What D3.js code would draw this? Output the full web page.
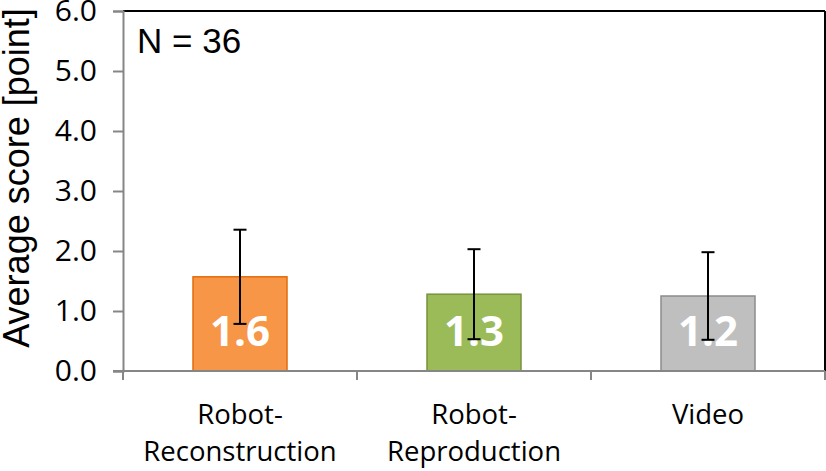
<!DOCTYPE html>
<html><head><meta charset="utf-8">
<script src="https://cdn.jsdelivr.net/npm/d3@7"></script>
<style>html,body{margin:0;padding:0;background:#fff;}</style>
</head><body>
<svg id="c" width="826" height="471"></svg>
<script>
const categories = [["Robot-","Reconstruction"],["Robot-","Reproduction"],["Video"]];
const means = [1.57, 1.28, 1.25];
const sds = [0.785, 0.75, 0.73];
const valueLabels = ["1.6","1.3","1.2"];
const yTicks = [0,1,2,3,4,5,6];
const fills = ["#F79646","#9BBB59","#BFBFBF"];
const strokes = ["#E46C0A","#77933C","#8C8C8C"];

const svg = d3.select("#c");
const m = {left:123, right:1, top:11, bottom:100};
const W = 826, H = 471;
const xb = d3.scaleBand().domain(d3.range(categories.length)).range([m.left, W - m.right]);
const y = d3.scaleLinear().domain([0,6]).range([371, 11]);

const calib = "'Open Sans', sans-serif";
const arial = "'Liberation Sans', Arial, sans-serif";
const gray = "#868686";

// frame top & right
svg.append("line").attr("x1", m.left).attr("x2", W - m.right).attr("y1", y(6)).attr("y2", y(6)).attr("stroke","#000").attr("stroke-width",2);
svg.append("line").attr("x1", W - m.right).attr("x2", W - m.right).attr("y1", y(6)).attr("y2", y(0)).attr("stroke","#000").attr("stroke-width",2);

// y axis
const ya = d3.axisLeft(y).tickValues(yTicks).tickFormat(d3.format(".1f")).tickSize(10).tickPadding(16);
const gy = svg.append("g").attr("transform",`translate(${m.left},0)`).call(ya);
gy.select(".domain").attr("stroke",gray).attr("stroke-width",2);
gy.selectAll(".tick line").attr("stroke",gray).attr("stroke-width",2);
gy.selectAll(".tick text").attr("font-family",calib).attr("font-size",30).attr("fill","#000");

// bars
svg.selectAll("rect.bar").data(means).join("rect")
  .attr("x",(d,i)=>xb(i)+xb.bandwidth()/2 - 47)
  .attr("width",94)
  .attr("y",d=>y(d)).attr("height",d=>y(0)-y(d))
  .attr("fill",(d,i)=>fills[i]).attr("stroke",(d,i)=>strokes[i]).attr("stroke-width",1.5);

// value labels
svg.selectAll("text.val").data(means).join("text")
  .attr("x",(d,i)=>xb(i)+xb.bandwidth()/2).attr("y",346)
  .attr("text-anchor","middle").attr("font-family",calib).attr("font-weight","bold")
  .attr("font-size",42).attr("fill","#fff").text((d,i)=>valueLabels[i]);

// error bars
const eb = svg.append("g").attr("stroke","#000").attr("stroke-width",2);
means.forEach((d,i)=>{
  const cx = xb(i)+xb.bandwidth()/2;
  eb.append("line").attr("x1",cx).attr("x2",cx).attr("y1",y(d+sds[i])).attr("y2",y(d-sds[i]));
  eb.append("line").attr("x1",cx-6.5).attr("x2",cx+6.5).attr("y1",y(d+sds[i])).attr("y2",y(d+sds[i]));
  eb.append("line").attr("x1",cx-6.5).attr("x2",cx+6.5).attr("y1",y(d-sds[i])).attr("y2",y(d-sds[i]));
});

// x axis
svg.append("line").attr("x1",m.left-10).attr("x2",W-m.right).attr("y1",y(0)).attr("y2",y(0)).attr("stroke",gray).attr("stroke-width",2);
const edges = d3.range(categories.length+1).map(i=> i<categories.length ? xb(i) : xb(i-1)+xb.bandwidth());
svg.selectAll("line.xt").data(edges).join("line")
  .attr("x1",d=>d).attr("x2",d=>d).attr("y1",y(0)).attr("y2",y(0)+9).attr("stroke",gray).attr("stroke-width",2);

// x labels
categories.forEach((lines,i)=>{
  const t = svg.append("text").attr("text-anchor","middle").attr("font-family",calib).attr("font-size",27.5).attr("fill","#000");
  lines.forEach((l,j)=>{
    t.append("tspan").attr("x",xb(i)+xb.bandwidth()/2).attr("y",424 + j*37).text(l);
  });
});

// N label
svg.append("text").attr("x",137).attr("y",53).attr("font-family",arial).attr("font-size",35).attr("fill","#000").text("N = 36");

// y title
svg.append("text").attr("transform","translate(29,178) rotate(-90)").attr("text-anchor","middle")
  .attr("font-family",arial).attr("font-size",36).attr("fill","#000").text("Average score [point]");
</script>
</body></html>
